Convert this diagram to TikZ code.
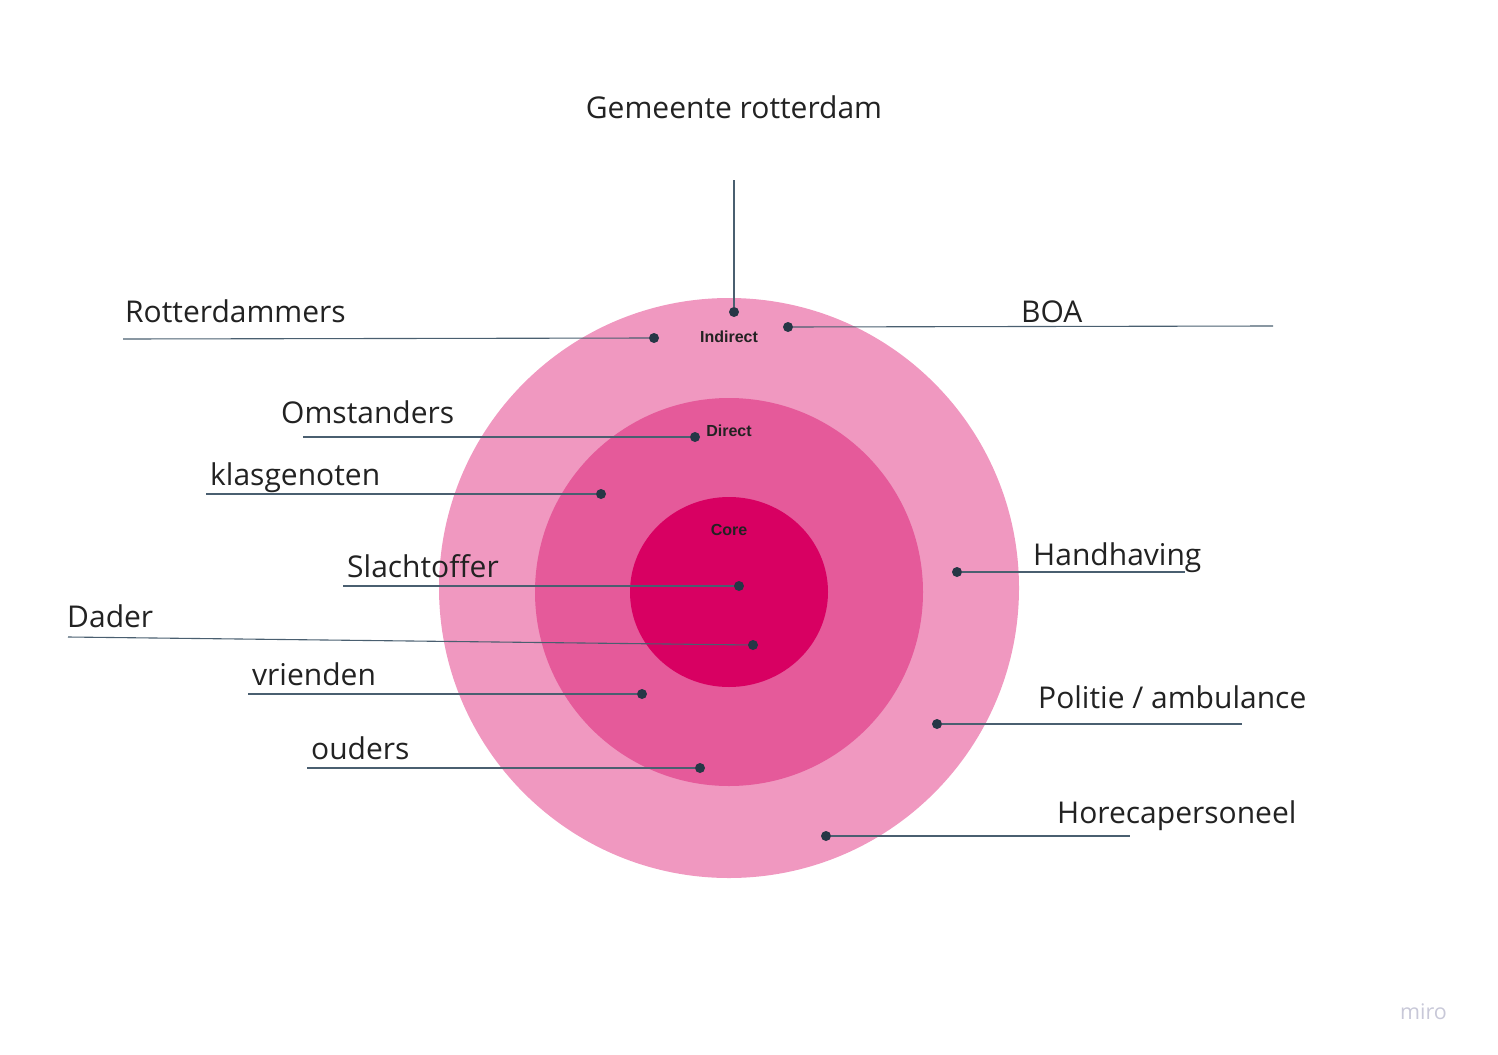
\documentclass[tikz,border=0pt]{standalone}
\usepackage{fontspec}
\setmainfont{Open Sans}
\newfontfamily\innerfont{Liberation Sans}
\definecolor{outerpink}{RGB}{240,152,192}
\definecolor{midpink}{RGB}{229,90,154}
\definecolor{corepink}{RGB}{216,0,98}
\definecolor{dotcol}{RGB}{38,55,70}
\definecolor{linecol}{RGB}{74,95,112}
\definecolor{txtcol}{RGB}{34,34,34}
\definecolor{mirocol}{RGB}{200,200,216}
\tikzset{
  lbl/.style={anchor=base west, inner sep=0pt, font=\fontsize{30}{35}\selectfont, text=txtcol},
  ringlbl/.style={inner sep=0pt, font=\innerfont\bfseries\fontsize{16}{19}\selectfont, text=txtcol},
  dotn/.style={circle, fill=dotcol, inner sep=0pt, minimum size=10pt},
  conn/.style={draw=linecol, line width=1.1pt}
}
\begin{document}
\begin{tikzpicture}[x=1pt,y=-1pt]
\useasboundingbox (0,0) rectangle (1498,1054);
% rings
\fill[outerpink] (729,588) circle (290);
\fill[midpink] (729,592) circle (194);
\fill[corepink] (729,592) ellipse (99 and 95);
\node[ringlbl] (indirect) at (729,337) {Indirect};
\node[ringlbl] (direct) at (729,431) {Direct};
\node[ringlbl] (core) at (729,530) {Core};
% labels
\node[anchor=base, inner sep=0pt, font=\fontsize{30}{35}\selectfont, text=txtcol] (gem) at (734,118) {Gemeente rotterdam};
\node[lbl] (rot) at (125,322) {Rotterdammers};
\node[lbl] (boa) at (1021,322) {BOA};
\node[lbl] (oms) at (281,423) {Omstanders};
\node[lbl] (kla) at (210,485) {klasgenoten};
\node[lbl] (sla) at (347,577) {Slachtoffer};
\node[lbl] (dad) at (67,627) {Dader};
\node[lbl] (vri) at (252,685) {vrienden};
\node[lbl] (oud) at (311,759) {ouders};
\node[lbl] (han) at (1033,565) {Handhaving};
\node[lbl] (pol) at (1038,708) {Politie / ambulance};
\node[lbl] (hor) at (1057,823) {Horecapersoneel};
% line free ends
\coordinate (egem) at (734,180);
\coordinate (erot) at (123,339);
\coordinate (eboa) at (1273,326);
\coordinate (eoms) at (303,437);
\coordinate (ekla) at (206,494);
\coordinate (esla) at (343,586);
\coordinate (edad) at (68,637);
\coordinate (evri) at (248,694);
\coordinate (eoud) at (307,768);
\coordinate (ehan) at (1185,572);
\coordinate (epol) at (1242,724);
\coordinate (ehor) at (1130,836);
% dots
\node[dotn] (dgem) at (734,312) {};
\node[dotn] (drot) at (654,338) {};
\node[dotn] (dboa) at (788,327) {};
\node[dotn] (doms) at (695,437) {};
\node[dotn] (dkla) at (601,494) {};
\node[dotn] (dsla) at (739,586) {};
\node[dotn] (ddad) at (753,645) {};
\node[dotn] (dvri) at (642,694) {};
\node[dotn] (doud) at (700,768) {};
\node[dotn] (dhan) at (957,572) {};
\node[dotn] (dpol) at (937,724) {};
\node[dotn] (dhor) at (826,836) {};
% connectors
\draw[conn] (egem) -- (dgem);
\draw[conn] (erot) -- (drot);
\draw[conn] (dboa) -- (eboa);
\draw[conn] (eoms) -- (doms);
\draw[conn] (ekla) -- (dkla);
\draw[conn] (esla) -- (dsla);
\draw[conn] (edad) -- (ddad);
\draw[conn] (evri) -- (dvri);
\draw[conn] (eoud) -- (doud);
\draw[conn] (dhan) -- (ehan);
\draw[conn] (dpol) -- (epol);
\draw[conn] (dhor) -- (ehor);
% logo
\node[anchor=base west, inner sep=0pt, font=\fontsize{21.5}{25}\selectfont, text=mirocol] (miro) at (1400,1019) {miro};
\end{tikzpicture}
\end{document}
